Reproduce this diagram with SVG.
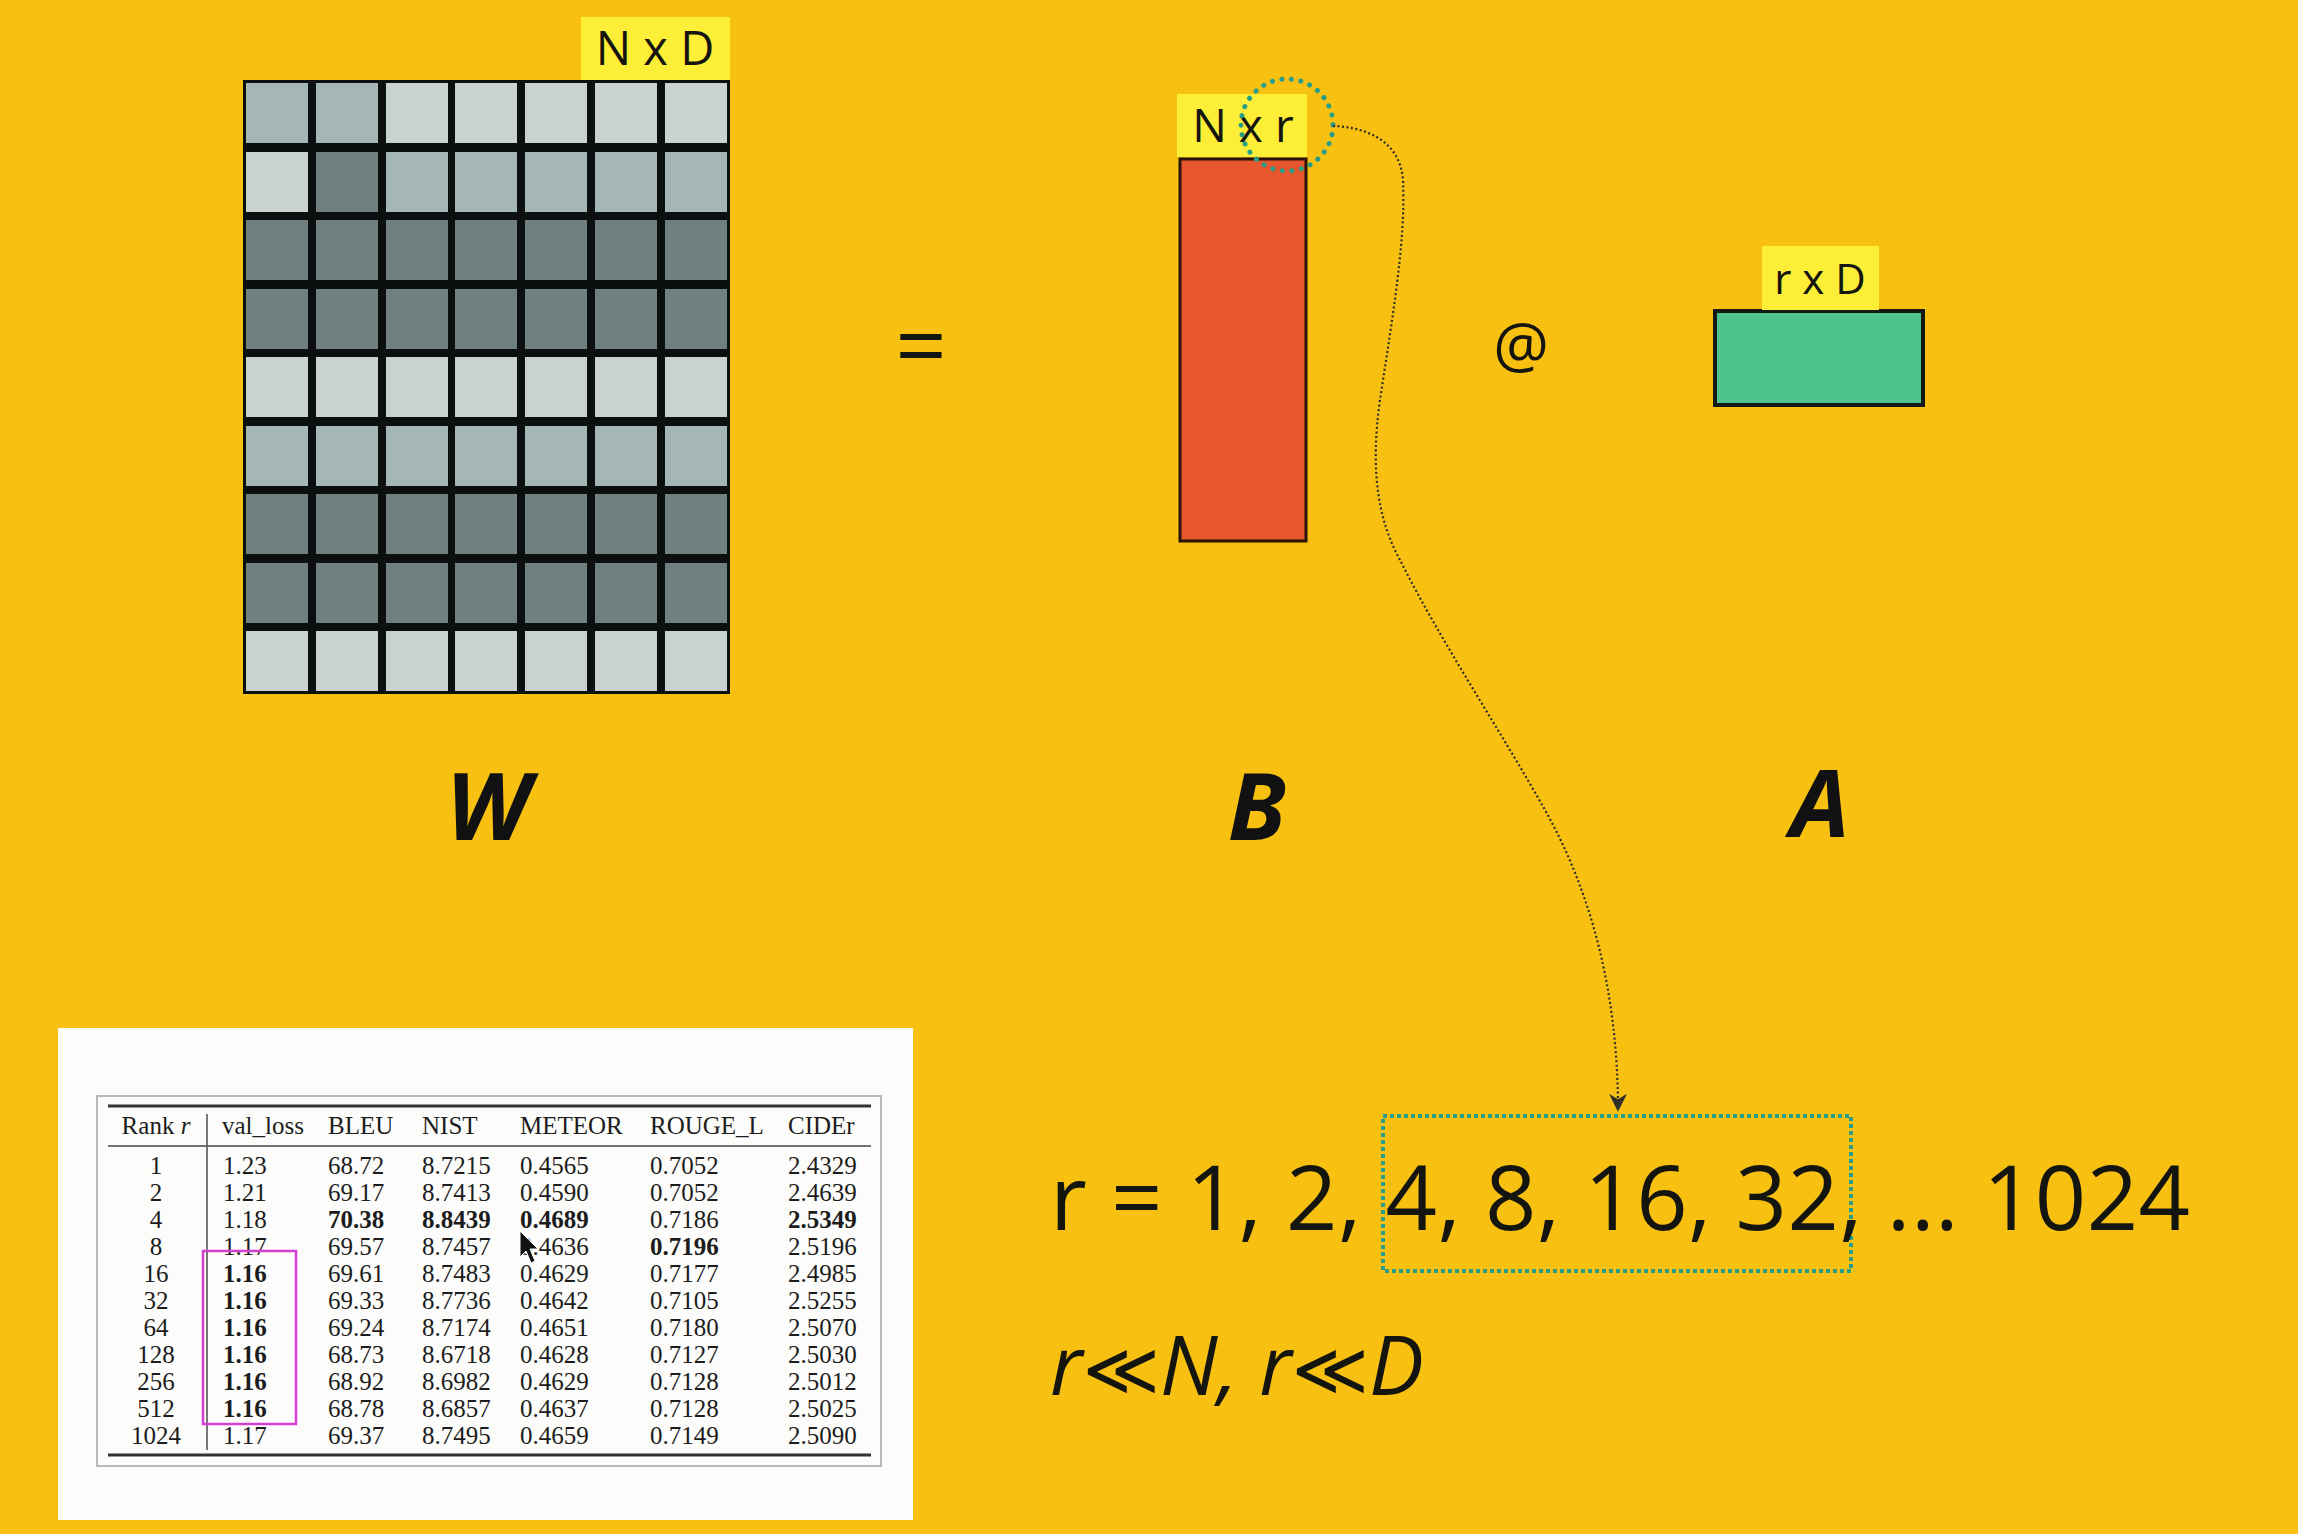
<svg xmlns="http://www.w3.org/2000/svg" width="2298" height="1534" viewBox="0 0 2298 1534">
<style>
.lbl{font-family:"Open Sans","Noto Sans","DejaVu Sans",sans-serif;fill:#151510;}
.big{font-family:"Open Sans","Noto Sans","DejaVu Sans",sans-serif;font-weight:700;font-style:italic;font-size:94px;fill:#111;text-anchor:middle;}
.tag{fill:#fdee37;}
.cl{fill:#c9d3ce;}
.cm{fill:#a5b7b5;}
.cd{fill:#6f807f;}
.tb{font-family:"Liberation Serif","Times New Roman",serif;font-size:25px;fill:#1c1c1c;}
.tb .b{font-weight:700;}
.c{text-anchor:middle;}
</style>
<defs>
<marker id="ah" viewBox="0 0 10 10" refX="9" refY="5" markerWidth="18" markerHeight="18" markerUnits="userSpaceOnUse" orient="auto">
<path d="M0,0 L10,5 L0,10 L3,5 Z" fill="#2f2f2a"/>
</marker>
</defs>
<rect x="0" y="0" width="2298" height="1534" fill="#f8c112"/>

<g id="W">
<rect x="243" y="80" width="487" height="614" fill="#0c0f0f"/>
<g id="W-cells">
<rect class="cm" x="246" y="83" width="62" height="60"/><rect class="cm" x="316" y="83" width="62" height="60"/><rect class="cl" x="386" y="83" width="62" height="60"/><rect class="cl" x="455" y="83" width="62" height="60"/><rect class="cl" x="525" y="83" width="62" height="60"/><rect class="cl" x="595" y="83" width="62" height="60"/><rect class="cl" x="665" y="83" width="62" height="60"/>
<rect class="cl" x="246" y="152" width="62" height="60"/><rect class="cd" x="316" y="152" width="62" height="60"/><rect class="cm" x="386" y="152" width="62" height="60"/><rect class="cm" x="455" y="152" width="62" height="60"/><rect class="cm" x="525" y="152" width="62" height="60"/><rect class="cm" x="595" y="152" width="62" height="60"/><rect class="cm" x="665" y="152" width="62" height="60"/>
<rect class="cd" x="246" y="220" width="62" height="60"/><rect class="cd" x="316" y="220" width="62" height="60"/><rect class="cd" x="386" y="220" width="62" height="60"/><rect class="cd" x="455" y="220" width="62" height="60"/><rect class="cd" x="525" y="220" width="62" height="60"/><rect class="cd" x="595" y="220" width="62" height="60"/><rect class="cd" x="665" y="220" width="62" height="60"/>
<rect class="cd" x="246" y="289" width="62" height="60"/><rect class="cd" x="316" y="289" width="62" height="60"/><rect class="cd" x="386" y="289" width="62" height="60"/><rect class="cd" x="455" y="289" width="62" height="60"/><rect class="cd" x="525" y="289" width="62" height="60"/><rect class="cd" x="595" y="289" width="62" height="60"/><rect class="cd" x="665" y="289" width="62" height="60"/>
<rect class="cl" x="246" y="357" width="62" height="60"/><rect class="cl" x="316" y="357" width="62" height="60"/><rect class="cl" x="386" y="357" width="62" height="60"/><rect class="cl" x="455" y="357" width="62" height="60"/><rect class="cl" x="525" y="357" width="62" height="60"/><rect class="cl" x="595" y="357" width="62" height="60"/><rect class="cl" x="665" y="357" width="62" height="60"/>
<rect class="cm" x="246" y="426" width="62" height="60"/><rect class="cm" x="316" y="426" width="62" height="60"/><rect class="cm" x="386" y="426" width="62" height="60"/><rect class="cm" x="455" y="426" width="62" height="60"/><rect class="cm" x="525" y="426" width="62" height="60"/><rect class="cm" x="595" y="426" width="62" height="60"/><rect class="cm" x="665" y="426" width="62" height="60"/>
<rect class="cd" x="246" y="494" width="62" height="60"/><rect class="cd" x="316" y="494" width="62" height="60"/><rect class="cd" x="386" y="494" width="62" height="60"/><rect class="cd" x="455" y="494" width="62" height="60"/><rect class="cd" x="525" y="494" width="62" height="60"/><rect class="cd" x="595" y="494" width="62" height="60"/><rect class="cd" x="665" y="494" width="62" height="60"/>
<rect class="cd" x="246" y="563" width="62" height="60"/><rect class="cd" x="316" y="563" width="62" height="60"/><rect class="cd" x="386" y="563" width="62" height="60"/><rect class="cd" x="455" y="563" width="62" height="60"/><rect class="cd" x="525" y="563" width="62" height="60"/><rect class="cd" x="595" y="563" width="62" height="60"/><rect class="cd" x="665" y="563" width="62" height="60"/>
<rect class="cl" x="246" y="631" width="62" height="60"/><rect class="cl" x="316" y="631" width="62" height="60"/><rect class="cl" x="386" y="631" width="62" height="60"/><rect class="cl" x="455" y="631" width="62" height="60"/><rect class="cl" x="525" y="631" width="62" height="60"/><rect class="cl" x="595" y="631" width="62" height="60"/><rect class="cl" x="665" y="631" width="62" height="60"/>
</g>
<rect class="tag" x="581" y="17" width="149" height="63"/>
<text class="lbl" x="655" y="65" font-size="47" text-anchor="middle">N x D</text>
<text class="big" x="488" y="840">W</text>
</g>

<g id="eq">
<text class="lbl" x="921" y="378" font-size="90" text-anchor="middle">=</text>
</g>

<g id="B">
<rect x="1180" y="159" width="126" height="382" fill="#e8562d" stroke="#2a1308" stroke-width="3"/>
<rect class="tag" x="1177" y="94" width="130" height="63"/>
<text class="lbl" x="1243" y="142" font-size="46" text-anchor="middle">N x r</text>
<circle cx="1287" cy="125" r="46" fill="none" stroke="#2a9d86" stroke-width="5" stroke-linecap="round" stroke-dasharray="0.1 9.5"/>
<text class="big" x="1257" y="840">B</text>
</g>

<g id="at">
<text class="lbl" x="1521" y="368" font-size="62" text-anchor="middle">@</text>
</g>

<g id="A">
<rect x="1715" y="311" width="208" height="94" fill="#4cc48c" stroke="#141a12" stroke-width="4"/>
<rect class="tag" x="1762" y="246" width="117" height="64"/>
<text class="lbl" x="1820" y="294" font-size="42" text-anchor="middle">r x D</text>
<text class="big" x="1820" y="837">A</text>
</g>

<g id="connectors">
<path d="M1333,126 C1365,127 1400,140 1403,180 C1406,240 1392,320 1380,400 C1370,470 1378,520 1400,560 C1440,640 1500,730 1545,810 C1590,890 1618,990 1618,1110" fill="none" stroke="#2f2f2a" stroke-width="2.2" stroke-dasharray="2 2.5" marker-end="url(#ah)"/>
</g>

<g id="rank-formula">
<rect x="1383" y="1116" width="468" height="155" fill="none" stroke="#2a9d86" stroke-width="4" stroke-dasharray="4 3"/>
<text class="lbl" x="1050" y="1230" font-size="90" textLength="1140" lengthAdjust="spacing">r = 1, 2, 4, 8, 16, 32, ... 1024</text>
<text class="lbl" x="1050" y="1395" font-size="82" font-style="italic">r<tspan font-size="74">≪</tspan>N, r<tspan font-size="74">≪</tspan>D</text>
</g>

<g id="table">
<rect x="58" y="1028" width="855" height="492" fill="#fcfcfb"/>
<rect x="97" y="1096" width="784" height="370" fill="none" stroke="#b9b9b9" stroke-width="2"/>
<line x1="108" y1="1106" x2="871" y2="1106" stroke="#333" stroke-width="3"/>
<line x1="108" y1="1146" x2="871" y2="1146" stroke="#444" stroke-width="1.6"/>
<line x1="108" y1="1455" x2="871" y2="1455" stroke="#333" stroke-width="3"/>
<line x1="207" y1="1114" x2="207" y2="1450" stroke="#555" stroke-width="1.6"/>
<g class="tb">
<text class="c" x="156" y="1134">Rank <tspan font-style="italic">r</tspan></text>
<text x="222" y="1134">val_loss</text>
<text x="328" y="1134">BLEU</text>
<text x="422" y="1134">NIST</text>
<text x="520" y="1134">METEOR</text>
<text x="650" y="1134">ROUGE_L</text>
<text x="788" y="1134">CIDEr</text>

<text class="c" x="156" y="1174">1</text><text x="223" y="1174">1.23</text><text x="328" y="1174">68.72</text><text x="422" y="1174">8.7215</text><text x="520" y="1174">0.4565</text><text x="650" y="1174">0.7052</text><text x="788" y="1174">2.4329</text>
<text class="c" x="156" y="1201">2</text><text x="223" y="1201">1.21</text><text x="328" y="1201">69.17</text><text x="422" y="1201">8.7413</text><text x="520" y="1201">0.4590</text><text x="650" y="1201">0.7052</text><text x="788" y="1201">2.4639</text>
<text class="c" x="156" y="1228">4</text><text x="223" y="1228">1.18</text><text class="b" x="328" y="1228">70.38</text><text class="b" x="422" y="1228">8.8439</text><text class="b" x="520" y="1228">0.4689</text><text x="650" y="1228">0.7186</text><text class="b" x="788" y="1228">2.5349</text>
<text class="c" x="156" y="1255">8</text><text x="223" y="1255">1.17</text><text x="328" y="1255">69.57</text><text x="422" y="1255">8.7457</text><text x="520" y="1255">0.4636</text><text class="b" x="650" y="1255">0.7196</text><text x="788" y="1255">2.5196</text>
<text class="c" x="156" y="1282">16</text><text class="b" x="223" y="1282">1.16</text><text x="328" y="1282">69.61</text><text x="422" y="1282">8.7483</text><text x="520" y="1282">0.4629</text><text x="650" y="1282">0.7177</text><text x="788" y="1282">2.4985</text>
<text class="c" x="156" y="1309">32</text><text class="b" x="223" y="1309">1.16</text><text x="328" y="1309">69.33</text><text x="422" y="1309">8.7736</text><text x="520" y="1309">0.4642</text><text x="650" y="1309">0.7105</text><text x="788" y="1309">2.5255</text>
<text class="c" x="156" y="1336">64</text><text class="b" x="223" y="1336">1.16</text><text x="328" y="1336">69.24</text><text x="422" y="1336">8.7174</text><text x="520" y="1336">0.4651</text><text x="650" y="1336">0.7180</text><text x="788" y="1336">2.5070</text>
<text class="c" x="156" y="1363">128</text><text class="b" x="223" y="1363">1.16</text><text x="328" y="1363">68.73</text><text x="422" y="1363">8.6718</text><text x="520" y="1363">0.4628</text><text x="650" y="1363">0.7127</text><text x="788" y="1363">2.5030</text>
<text class="c" x="156" y="1390">256</text><text class="b" x="223" y="1390">1.16</text><text x="328" y="1390">68.92</text><text x="422" y="1390">8.6982</text><text x="520" y="1390">0.4629</text><text x="650" y="1390">0.7128</text><text x="788" y="1390">2.5012</text>
<text class="c" x="156" y="1417">512</text><text class="b" x="223" y="1417">1.16</text><text x="328" y="1417">68.78</text><text x="422" y="1417">8.6857</text><text x="520" y="1417">0.4637</text><text x="650" y="1417">0.7128</text><text x="788" y="1417">2.5025</text>
<text class="c" x="156" y="1444">1024</text><text x="223" y="1444">1.17</text><text x="328" y="1444">69.37</text><text x="422" y="1444">8.7495</text><text x="520" y="1444">0.4659</text><text x="650" y="1444">0.7149</text><text x="788" y="1444">2.5090</text>
</g>
<rect x="203" y="1251" width="93" height="173" fill="none" stroke="#d43fcf" stroke-width="2.5"/>
<path d="M520,1231 L520,1257 L526,1251 L531,1263 L535,1261 L530,1249 L538,1249 Z" fill="#111" stroke="#fff" stroke-width="1"/>
</g>
</svg>
